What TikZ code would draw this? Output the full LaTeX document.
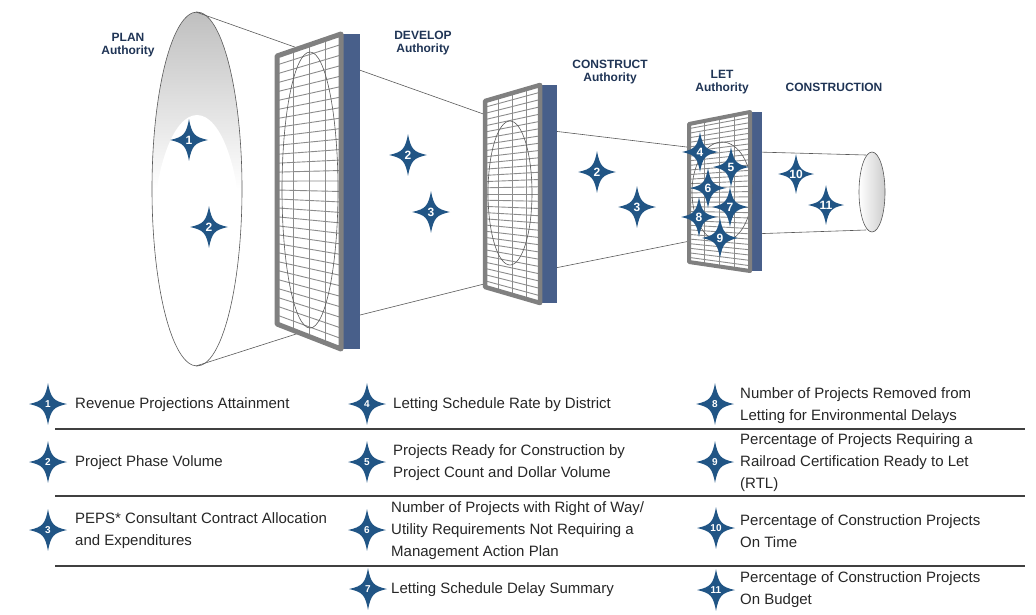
\documentclass[tikz,border=0pt]{standalone}
\usepackage{fontspec}
\setmainfont{Liberation Sans}
\usetikzlibrary{calc,shadings}
\definecolor{starc}{HTML}{215585}
\definecolor{navy}{HTML}{1F3455}
\definecolor{bar}{HTML}{485F8A}
\definecolor{frm}{HTML}{808080}
\tikzset{
  num/.style={text=white,font=\bfseries\fontsize{12}{12}\selectfont,inner sep=0pt},
  lnum/.style={text=white,font=\bfseries\fontsize{10}{10}\selectfont,inner sep=0pt},
  title/.style={text=navy,font=\bfseries\fontsize{12}{13.5}\selectfont,align=center,inner sep=0pt},
  leg/.style={anchor=west,font=\fontsize{15}{22}\selectfont,align=left,inner sep=0pt,text=black!85},
  funnel/.style={draw=black!65,line width=0.6pt},
  sep/.style={draw=black!75,line width=1.4pt},
  grid/.style={draw=black!45,line width=0.9pt},
}
\newcommand\Star[5]{%
  \fill[starc,shift={(#2)},scale=#5] (20,0) .. controls (6,3) and (3,6) .. (0,22)
    .. controls (-3,6) and (-6,3) .. (-20,0) .. controls (-6,-3) and (-3,-6) .. (0,-22)
    .. controls (3,-6) and (6,-3) .. cycle;
  \node[#4] (#1) at (#2) {#3};}
\newcommand\Frame[6]{% name, TL, TR, BR, BL, bar right x
  \coordinate (#1tl) at (#2); \coordinate (#1tr) at (#3);
  \coordinate (#1br) at (#4); \coordinate (#1bl) at (#5);
  \fill[bar] (#1tr) rectangle (#6,0|-#1br);
  \fill[white] (#1tl)--(#1tr)--(#1br)--(#1bl)--cycle;
  \foreach \i in {1,...,29}{\draw[grid] ($(#1tl)!\i/30!(#1bl)$) -- ($(#1tr)!\i/30!(#1br)$);}
  \foreach \i in {1,2,3}{\draw[grid] ($(#1tl)!\i/4!(#1tr)$) -- ($(#1bl)!\i/4!(#1br)$);}
}
\begin{document}
\begin{tikzpicture}[x=1pt,y=-1pt]
\useasboundingbox (0,0) rectangle (1036,614);
% big ellipse
\shade[top color=black!25,bottom color=white,middle color=white,shading angle=0]
  (197,189) ellipse [x radius=45,y radius=177];
\fill[white] (197,240) ellipse [x radius=44,y radius=125];
\draw[funnel] (197,189) ellipse [x radius=45,y radius=177];
% funnel lines
\coordinate (t0) at (196,12); \coordinate (b0) at (196,366);
\draw[funnel] (t0) -- (520,127) -- (720,151) -- (866,155);
\draw[funnel] (b0) -- (340,320) -- (520,275) -- (720,235) -- (866,230);
% tube end
\shade[left color=white,right color=black!20] (872,192) ellipse [x radius=13,y radius=40];
\draw[funnel] (872,192) ellipse [x radius=13,y radius=40];
% frames
\Frame{f1}{277,56}{341,34}{341,349}{277,324}{360}
\draw[funnel] (310,190) ellipse [x radius=28,y radius=138];
\draw[frm,line width=5pt,line join=round] (f1tl)--(f1tr)--(f1br)--(f1bl)--cycle;
\Frame{f2}{485,101}{540,85}{540,303}{485,287}{557}
\draw[funnel] (510,193) ellipse [x radius=22,y radius=72];
\draw[frm,line width=4.5pt,line join=round] (f2tl)--(f2tr)--(f2br)--(f2bl)--cycle;
\Frame{f3}{689,124}{750,112}{750,271}{689,262}{762}
\draw[funnel] (722,192) ellipse [x radius=30,y radius=50];
\draw[frm,line width=4pt,line join=round] (f3tl)--(f3tr)--(f3br)--(f3bl)--cycle;
% titles
\node[title] (tplan) at (128,45) {PLAN\\Authority};
\node[title] (tdev) at (423,43) {DEVELOP\\Authority};
\node[title] (tcons) at (610,72) {CONSTRUCT\\Authority};
\node[title] (tlet) at (722,82) {LET\\Authority};
\node[title] (tcn) at (834,87) {CONSTRUCTION};
% stars in funnel
\Star{s1}{189,140}{1}{num}{0.95}
\Star{s2a}{209,227}{2}{num}{0.95}
\Star{s2b}{408,155}{2}{num}{0.95}
\Star{s3a}{431,212}{3}{num}{0.95}
\Star{s2c}{597,172}{2}{num}{0.95}
\Star{s3b}{637,207}{3}{num}{0.95}
\Star{s4}{700,152}{4}{num}{0.9}
\Star{s5}{731,167}{5}{num}{0.9}
\Star{s6}{708,188}{6}{num}{0.9}
\Star{s7}{730,207}{7}{num}{0.9}
\Star{s8}{699,217}{8}{num}{0.9}
\Star{s9}{720,238}{9}{num}{0.9}
\Star{s10}{796,174}{10}{num}{0.9}
\Star{s11}{826,205}{11}{num}{0.9}
% legend separators
\coordinate (l1a) at (55,429); \coordinate (l1b) at (1025,429);
\coordinate (l2a) at (55,496); \coordinate (l2b) at (1025,496);
\coordinate (l3a) at (55,566); \coordinate (l3b) at (1025,566);
\draw[sep] (l1a)--(l1b); \draw[sep] (l2a)--(l2b); \draw[sep] (l3a)--(l3b);
% legend
\Star{k1}{48,404}{1}{lnum}{0.95}
\Star{k2}{48,462}{2}{lnum}{0.95}
\Star{k3}{48,530}{3}{lnum}{0.95}
\Star{k4}{367,404}{4}{lnum}{0.95}
\Star{k5}{367,462}{5}{lnum}{0.95}
\Star{k6}{367,530}{6}{lnum}{0.95}
\Star{k7}{368,589}{7}{lnum}{0.95}
\Star{k8}{715,404}{8}{lnum}{0.95}
\Star{k9}{715,462}{9}{lnum}{0.95}
\Star{k10}{716,528}{10}{lnum}{0.95}
\Star{k11}{716,590}{11}{lnum}{0.95}
\node[leg] (d1) at (75,405) {Revenue Projections Attainment};
\node[leg] (d2) at (75,463) {Project Phase Volume};
\node[leg] (d3) at (75,531) {PEPS* Consultant Contract Allocation\\and Expenditures};
\node[leg] (d4) at (393,405) {Letting Schedule Rate by District};
\node[leg] (d5) at (393,463) {Projects Ready for Construction by\\Project Count and Dollar Volume};
\node[leg] (d6) at (391,531) {Number of Projects with Right of Way/\\Utility Requirements Not Requiring a\\Management Action Plan};
\node[leg] (d7) at (391,590) {Letting Schedule Delay Summary};
\node[leg] (d8) at (740,406) {Number of Projects Removed from\\Letting for Environmental Delays};
\node[leg] (d9) at (740,463) {Percentage of Projects Requiring a\\Railroad Certification Ready to Let\\(RTL)};
\node[leg] (d10) at (740,531) {Percentage of Construction Projects\\On Time};
\node[leg] (d11) at (740,590) {Percentage of Construction Projects\\On Budget};
\end{tikzpicture}
\end{document}
